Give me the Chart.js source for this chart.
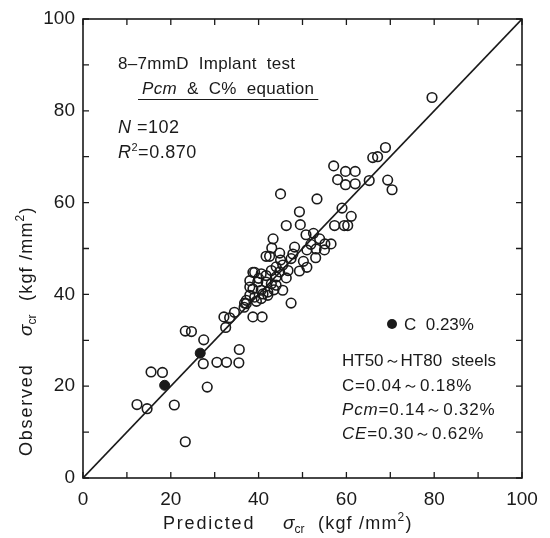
<!DOCTYPE html>
<html>
<head>
<meta charset="utf-8">
<script src="https://cdn.jsdelivr.net/npm/chart.js@4"></script>
<style>
  html, body { margin: 0; padding: 0; background: #fff; }
  #wrap { width: 550px; height: 538px; }
</style>
</head>
<body>
<div id="wrap"><canvas id="chart"></canvas></div>
<script>
// open circles: predicted / observed sigma_cr (kgf/mm2)
const predicted = [
  23.3, 12.3, 14.6, 20.8, 15.5, 18.1, 28.3, 27.4, 27.5, 23.3,
  24.7, 30.5, 32.7, 35.5, 35.6, 32.5, 32.1, 33.4, 34.5, 36.7,
  36.8, 38.7, 40.8, 37.2, 38.0, 39.1, 40.6, 42.1, 38.7, 40.6,
  42.1, 45.5, 47.4, 38.0, 39.8, 41.7, 42.9, 44.0, 38.7, 40.6,
  41.7, 44.0, 46.3, 42.9, 46.7, 49.3, 45.5, 51.0, 47.4, 50.2,
  41.7, 42.5, 53.0, 44.8, 47.8, 43.0, 48.2, 51.0, 53.1, 55.0,
  51.9, 55.1, 53.9, 50.8, 52.5, 46.3, 49.5, 43.3, 44.8, 39.1,
  38.0, 41.0, 37.2, 56.5, 57.3, 59.5, 60.3, 61.1, 49.3, 59.0,
  53.3, 45.0, 65.2, 69.4, 70.4, 58.0, 59.8, 62.0, 59.8, 62.0,
  57.1, 66.0, 67.1, 68.9, 79.5, 40.0, 43.5, 45.0, 39.5, 44.0
];
const observed = [
   7.9, 16.0, 15.1, 15.9, 23.1, 23.0, 19.8, 24.9, 30.1, 32.0,
  31.9, 25.2, 25.2, 25.1, 28.0, 32.8, 35.1, 34.9, 36.1, 37.2,
  38.1, 35.1, 35.1, 38.7, 39.8, 39.4, 39.1, 39.8, 41.2, 40.9,
  40.5, 40.9, 38.1, 43.0, 42.7, 42.7, 42.3, 42.0, 44.8, 44.5,
  44.1, 43.8, 43.6, 45.2, 45.2, 45.1, 46.4, 45.9, 47.8, 47.2,
  48.3, 48.3, 48.0, 49.0, 48.8, 50.1, 50.3, 49.7, 49.9, 49.7,
  50.9, 51.0, 52.1, 53.0, 53.3, 55.0, 55.2, 52.1, 44.9, 44.8,
  41.6, 40.1, 38.0, 51.0, 55.0, 55.0, 55.0, 57.0, 58.0, 58.8,
  60.8, 61.9, 64.8, 64.9, 62.8, 65.0, 63.9, 64.1, 66.8, 66.8,
  68.0, 69.8, 70.0, 72.0, 82.9, 43.5, 41.0, 47.5, 38.5, 46.0
];
// filled circles: C 0.23%
const predictedC23 = [18.6, 26.7];
const observedC23 = [20.2, 27.2];
// 1:1 line
const lineX = [0, 100];
const lineY = [0, 100];

const toXY = (xs, ys) => xs.map((x, i) => ({ x: x, y: ys[i] }));

const INK = '#1a1a1a';
const FONT = '"Liberation Sans", Arial, sans-serif';

// draw a run of text pieces: [text, italic, size, dy]
const drawRich = (ctx, x, y, parts, spacing) => {
  ctx.letterSpacing = (spacing || 0) + 'px';
  let cx = x;
  parts.forEach(p => {
    ctx.font = (p[1] ? 'italic ' : '') + p[2] + 'px ' + FONT;
    ctx.fillText(p[0], cx, y + (p[3] || 0));
    cx += ctx.measureText(p[0]).width;
  });
  ctx.letterSpacing = '0px';
  return cx - x;
};

// axis title pieces, placed along the axis from a start offset
const axisTitle = (ctx, x, y, word) => {
  drawRich(ctx, x, y, [[word, false, 18]], 1.8);
  drawRich(ctx, x + 120, y, [['σ', true, 19], ['cr', false, 12, 4]], 0);
  drawRich(ctx, x + 155, y, [['(kgf', false, 18], [' /mm', false, 18], ['2', false, 12, -8], [')', false, 18]], 1.2);
};

const framePlugin = {
  id: 'frame',
  afterDraw(chart) {
    const ctx = chart.ctx;
    const a = chart.chartArea;
    const xs = chart.scales.x;
    const ys = chart.scales.y;
    ctx.save();
    ctx.strokeStyle = INK;
    ctx.lineWidth = 1.6;
    ctx.strokeRect(a.left, a.top, a.right - a.left, a.bottom - a.top);
    // inward ticks on all four sides
    ctx.lineWidth = 1.3;
    const tl = 6;
    ctx.beginPath();
    xs.ticks.forEach(t => {
      const px = xs.getPixelForValue(t.value);
      ctx.moveTo(px, a.bottom); ctx.lineTo(px, a.bottom - tl);
      ctx.moveTo(px, a.top); ctx.lineTo(px, a.top + tl);
    });
    ys.ticks.forEach(t => {
      const py = ys.getPixelForValue(t.value);
      ctx.moveTo(a.left, py); ctx.lineTo(a.left + tl, py);
      ctx.moveTo(a.right, py); ctx.lineTo(a.right - tl, py);
    });
    ctx.stroke();

    ctx.fillStyle = INK;
    ctx.textBaseline = 'alphabetic';
    ctx.textAlign = 'left';

    // axis titles
    axisTitle(ctx, 163, 529, 'Predicted');
    ctx.save();
    ctx.translate(32, 456);
    ctx.rotate(-Math.PI / 2);
    axisTitle(ctx, 0, 0, 'Observed');
    ctx.restore();

    // upper-left annotation
    drawRich(ctx, 118, 69, [['8–7mmD  Implant  test', false, 17]], 0.3);
    const w2 = drawRich(ctx, 142, 94, [['Pcm', true, 17], ['  &  C%  equation', false, 17]], 0.3);
    ctx.lineWidth = 1;
    ctx.beginPath();
    ctx.moveTo(138, 99.5); ctx.lineTo(142 + w2 + 4, 99.5);
    ctx.stroke();
    drawRich(ctx, 118, 133, [['N', true, 18], [' =102', false, 18]], 0.5);
    drawRich(ctx, 118, 158, [['R', true, 18], ['2', false, 11, -7], ['=0.870', false, 18]], 0.5);

    // lower-right annotation
    ctx.beginPath();
    ctx.arc(392, 324, 5, 0, Math.PI * 2);
    ctx.fill();
    drawRich(ctx, 404, 330, [['C  0.23%', false, 17]]);
    drawRich(ctx, 342, 366, [['HT50～HT80  steels', false, 17]]);
    drawRich(ctx, 342, 391, [['C=0.04～0.18%', false, 17]], 0.8);
    drawRich(ctx, 342, 415, [['Pcm', true, 17], ['=0.14～0.32%', false, 17]], 0.8);
    drawRich(ctx, 342, 439, [['CE', true, 17], ['=0.30～0.62%', false, 17]], 0.8);
    ctx.restore();
  }
};

const tickLabel = v => (v % 20 === 0 ? String(v) : '');

const chart = new Chart(document.getElementById('chart'), {
  type: 'scatter',
  data: {
    datasets: [
      {
        label: 'C 0.04-0.18%',
        data: toXY(predicted, observed),
        pointStyle: 'circle',
        pointRadius: 4.8,
        borderColor: INK,
        borderWidth: 1.6,
        backgroundColor: 'rgba(0,0,0,0)'
      },
      {
        label: 'C 0.23%',
        data: toXY(predictedC23, observedC23),
        pointRadius: 5,
        borderColor: INK,
        borderWidth: 1,
        backgroundColor: INK
      },
      {
        label: '1:1',
        data: toXY(lineX, lineY),
        showLine: true,
        pointRadius: 0,
        borderColor: INK,
        borderWidth: 1.6
      }
    ]
  },
  options: {
    responsive: true,
    maintainAspectRatio: false,
    animation: false,
    layout: { padding: { top: 19, right: 28, left: 0, bottom: 0 } },
    plugins: { legend: { display: false }, tooltip: { enabled: false } },
    scales: {
      x: {
        type: 'linear', min: 0, max: 100,
        grid: { display: false }, border: { display: false },
        ticks: { stepSize: 10, autoSkip: false, maxRotation: 0, padding: 2,
                 color: INK, font: { family: FONT, size: 19 }, callback: tickLabel },
        afterFit(s) { s.height = 60; }
      },
      y: {
        type: 'linear', min: 0, max: 100,
        grid: { display: false }, border: { display: false },
        ticks: { stepSize: 10, autoSkip: false, padding: 0,
                 color: INK, font: { family: FONT, size: 19 }, callback: tickLabel },
        afterFit(s) { s.width = 83; }
      }
    }
  },
  plugins: [framePlugin]
});
</script>
</body>
</html>
